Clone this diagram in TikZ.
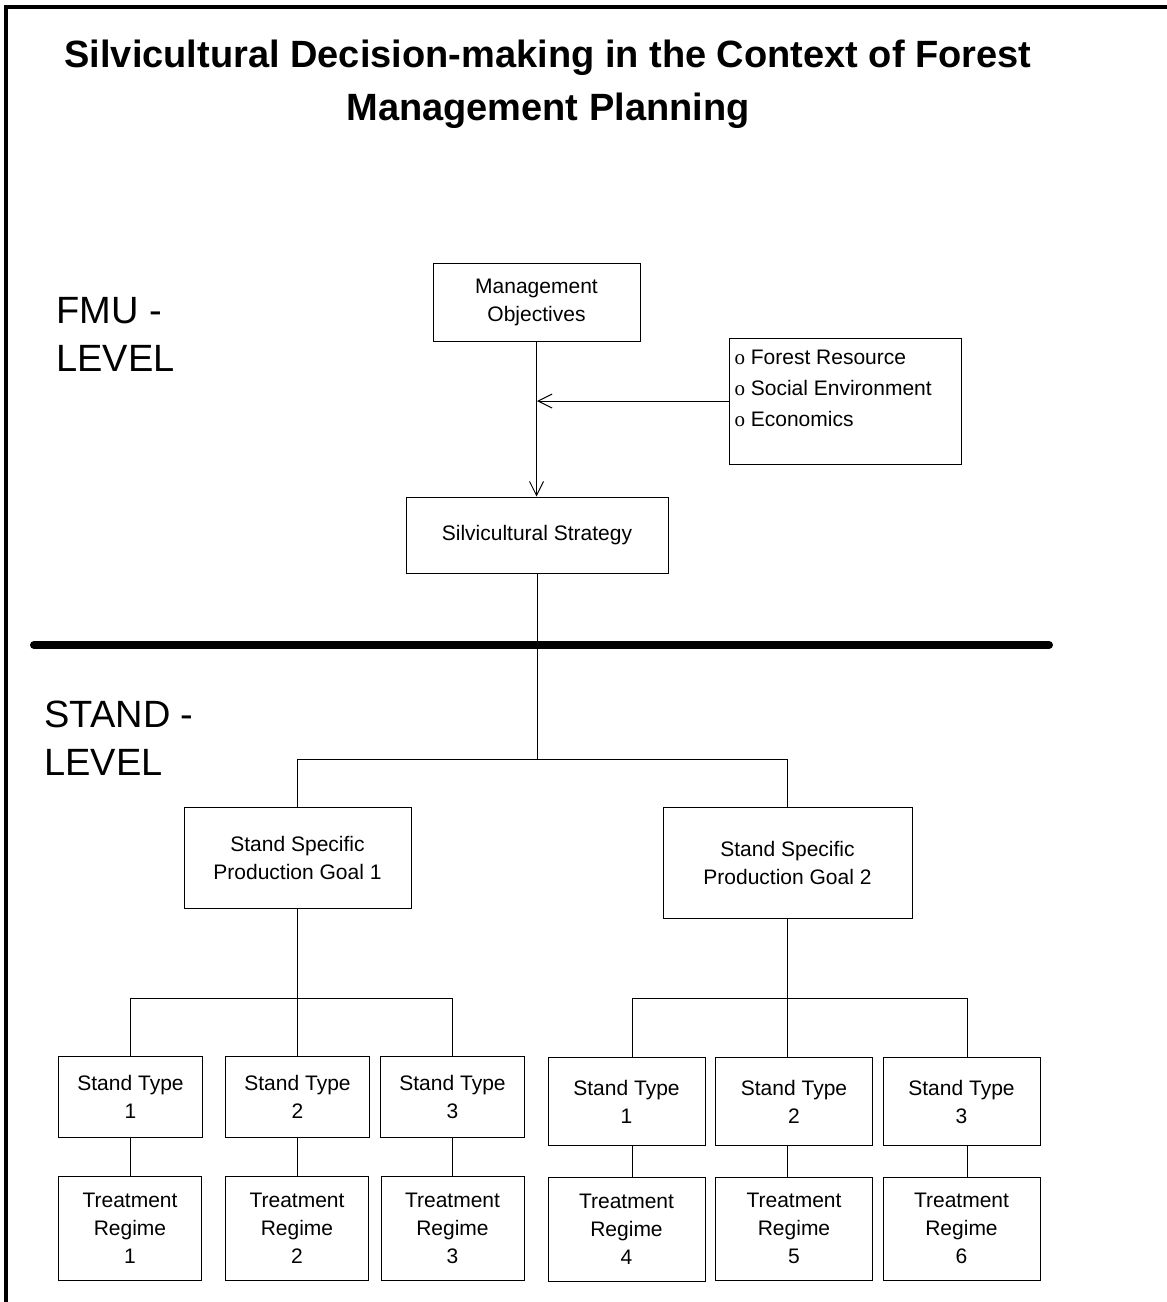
\documentclass[tikz,border=0pt]{standalone}
\usepackage{fontspec}
\setmainfont{Liberation Sans}
\newfontfamily\bulletfont{Liberation Serif}
\usetikzlibrary{arrows.meta}

\tikzset{
	box/.style = {draw, align = center, inner sep = 0pt, font = \fontsize{10.5}{14}\selectfont},
	stbox/.style = {box, minimum width = 72pt, minimum height = 40.5pt},
	trbox/.style = {box, minimum width = 71.5pt, minimum height = 52pt},
	stboxb/.style = {box, minimum width = 78.5pt, minimum height = 44pt},
	trboxb/.style = {box, minimum width = 78.5pt, minimum height = 51.5pt},
	arr/.style = {-{Straight Barb[length = 7pt, width = 7pt]}},
	lvl/.style = {anchor = north west, align = left, inner sep = 0pt, font = \fontsize{19}{24}\selectfont},
	heading/.style = {anchor = north, align = center, inner sep = 0pt, font = \fontsize{19}{26.5}\selectfont\bfseries},
}

\begin{document}
\begin{tikzpicture}[x = 0.5pt, y = -0.5pt, line width = 0.5pt]
		\useasboundingbox (0,0) rectangle (1167,1302);
		
		% frame
		\draw[line width = 2pt] (5.5,1310) -- (5.5,6.5) -- (1175,6.5);
		
		\node[heading] (title) at (548,39) {Silvicultural Decision-making in the Context of Forest\\Management Planning};
		
		\node[lvl] (fmu) at (56,297) {FMU -\\LEVEL};
		\node[lvl] (stand) at (44,700) {STAND -\\LEVEL};
		
		\draw[line width = 4pt, line cap = round] (34,645) -- (1049,645);
		
		% FMU level
		\node[box, minimum width = 103.5pt, minimum height = 39pt] (mgmt) at (536.5,302) {Management\\Objectives};
		\node[box, minimum width = 131pt, minimum height = 38pt] (strat) at (537,535) {Silvicultural Strategy};
		\node[box, minimum width = 116pt, minimum height = 63pt] (fact) at (845,401) {};
		\node[anchor = north west, align = left, inner sep = 0pt, font = \fontsize{10.5}{15.5}\selectfont] (facttext) at (734,350)
			{{\bulletfont o} Forest Resource\\{\bulletfont o} Social Environment\\{\bulletfont o} Economics};
		
		\coordinate (merge) at (537,401);
		\draw[arr] (mgmt.south) -- (mgmt.south |- strat.north);
		\draw[arr] (fact.west) -- (merge);
		
		% stand level
		\node[box, minimum width = 113.5pt, minimum height = 50.5pt] (goal1) at (297.5,857.5) {Stand Specific\\Production Goal 1};
		\node[box, minimum width = 124.5pt, minimum height = 55.5pt] (goal2) at (787.5,862.5) {Stand Specific\\Production Goal 2};
		
		\coordinate (split) at (537,759);
		\draw (strat.south) -- (split);
		\draw (goal1.north) |- (split) -| (goal2.north);
		
		\node[stbox] (st1) at (130.5,1096.5) {Stand Type\\1};
		\node[stbox] (st2) at (297.5,1096.5) {Stand Type\\2};
		\node[stbox] (st3) at (452.5,1096.5) {Stand Type\\3};
		\node[trbox] (tr1) at (130,1228) {Treatment\\Regime\\1};
		\node[trbox] (tr2) at (297,1228) {Treatment\\Regime\\2};
		\node[trbox] (tr3) at (452.5,1228) {Treatment\\Regime\\3};
		
		\coordinate (join1) at (297.5,998);
		\draw (goal1.south) -- (join1);
		\draw (st1.north) |- (join1) -| (st3.north);
		\draw (join1) -- (st2.north);
		\draw (st1.south) -- (st1.south |- tr1.north);
		\draw (st2.south) -- (st2.south |- tr2.north);
		\draw (st3.south) -- (st3.south |- tr3.north);
		
		\node[stboxb] (st4) at (626.5,1101.5) {Stand Type\\1};
		\node[stboxb] (st5) at (794,1101.5) {Stand Type\\2};
		\node[stboxb] (st6) at (961.5,1101.5) {Stand Type\\3};
		\node[trboxb, minimum height = 52pt] (tr4) at (626.5,1229.5) {Treatment\\Regime\\4};
		\node[trboxb] (tr5) at (794,1228.5) {Treatment\\Regime\\5};
		\node[trboxb] (tr6) at (961.5,1228.5) {Treatment\\Regime\\6};
		
		\coordinate (join2) at (787.5,998);
		\coordinate (drop4) at (632,998);
		\coordinate (drop6) at (967,998);
		\draw (goal2.south) -- (join2);
		\draw (drop4 |- st4.north) -- (drop4) -- (drop6) -- (drop6 |- st6.north);
		\draw (join2) -- (join2 |- st5.north);
		\draw (drop4 |- st4.south) -- (drop4 |- tr4.north);
		\draw (join2 |- st5.south) -- (join2 |- tr5.north);
		\draw (drop6 |- st6.south) -- (drop6 |- tr6.north);
	\end{tikzpicture}
\end{document}
